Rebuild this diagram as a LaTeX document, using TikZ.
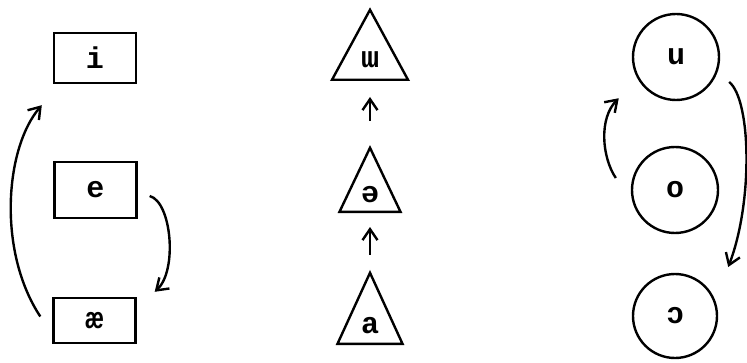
\documentclass[tikz,border=0pt]{standalone}
\usepackage{fontspec}
\setmonofont{Liberation Mono}
\usepackage{tikz}
\usetikzlibrary{arrows.meta,shapes.geometric}

\begin{document}
\begin{tikzpicture}[x=1pt, y=1pt,
  vowel/.style={font=\ttfamily\bfseries\fontsize{30}{32}\selectfont, line width=2.4pt},
  frontbox/.style={vowel, draw, rectangle, minimum width=82pt, minimum height=50pt},
  midtri/.style={vowel, draw, isosceles triangle, isosceles triangle stretches,
    shape border rotate=90, inner sep=0pt, anchor=lower side},
  backcirc/.style={vowel, draw, circle, minimum size=86pt},
  arr/.style={-{Straight Barb[length=11pt,width=15pt]}, line width=2.4pt},
]
\useasboundingbox (0,0) rectangle (747,362);

% front column
\node[frontbox] (i) at (95,304) {i};
\node[frontbox, minimum height=56pt] (e) at (95.5,172) {e};
\node[frontbox, minimum height=45pt] (ae) at (94.5,41.5) {æ};

% central column
\node[midtri, minimum width=76pt, minimum height=70pt] (tw) at (370,281) {ɯ};
\node[midtri, minimum width=61pt, minimum height=64pt] (tschwa) at (370,149) {ə};
\node[midtri, minimum width=65pt, minimum height=71pt] (ta) at (370,17) {a};

% back column
\node[backcirc] (u) at (676,305) {u};
\node[backcirc] (o) at (675,172) {o};
\node[backcirc, minimum size=84pt] (oo) at (675,46) {ɔ};

\draw[arr] ([xshift=-12pt,yshift=4pt]ae.west) .. controls +(-43,65) and +(-37,-43) .. ([xshift=-11pt,yshift=-21pt]i.south west);
\draw[arr] ([xshift=12pt,yshift=-6pt]e.east) .. controls +(22,-6) and +(23,21) .. ([xshift=18pt,yshift=5pt]ae.north east);

\draw[arr, shorten <=24pt, shorten >=16pt] (tschwa.apex) -- (tw.lower side);
\draw[arr, shorten <=15pt, shorten >=14pt] (ta.apex) -- (tschwa.lower side);

\draw[arr] ([xshift=-15pt,yshift=12pt]o.west) .. controls +(-14,21) and +(-20,-20) .. ([xshift=-26pt,yshift=-10pt]u.south west);
\draw[arr] ([xshift=9pt,yshift=-25pt]u.east) .. controls +(22,-18) and +(25,65) .. ([xshift=10pt,yshift=49pt]oo.east);
\end{tikzpicture}
\end{document}
